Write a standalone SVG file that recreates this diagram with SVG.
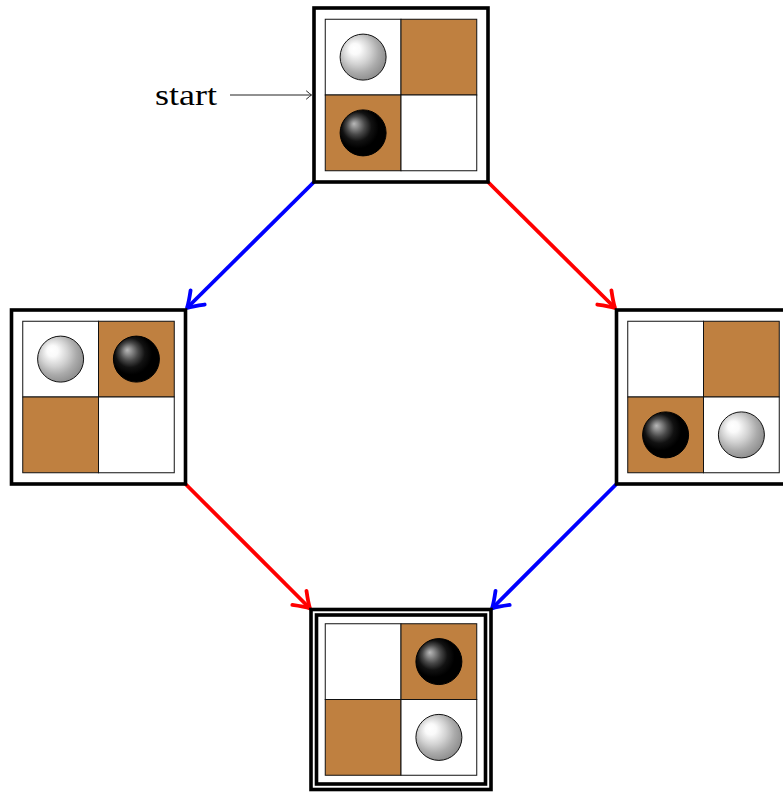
<svg xmlns="http://www.w3.org/2000/svg" xmlns:xlink="http://www.w3.org/1999/xlink" width="783" height="792" viewBox="0 0 783 792">
<style>
.frame{fill:#fff;stroke:#000;stroke-width:3.6}
.cellw{fill:#fff;stroke:#111;stroke-width:1}
.cellb{fill:#BF8040;stroke:#111;stroke-width:1}
.wball{fill:url(#gw);stroke:#111;stroke-width:1}
.bball{fill:url(#gb);stroke:#000;stroke-width:1}
.blue{stroke:#0000FF;stroke-width:3.8;fill:none}
.red{stroke:#FF0000;stroke-width:3.8;fill:none}
.lbl{font-family:"Liberation Serif","DejaVu Serif",serif;font-size:29px;fill:#000}
</style>
<defs>
<radialGradient id="gw" cx="0.5" cy="0.5" r="1" fx="0.3" fy="0.3">
<stop offset="0" stop-color="#fff"/>
<stop offset="0.12" stop-color="#fafafa"/>
<stop offset="0.3" stop-color="#d2d2d2"/>
<stop offset="0.45" stop-color="#ababab"/>
<stop offset="0.62" stop-color="#8a8a8a"/>
<stop offset="1" stop-color="#555"/>
</radialGradient>
<radialGradient id="gb" cx="0.5" cy="0.5" r="1" fx="0.3" fy="0.3">
<stop offset="0" stop-color="#b8b8b8"/>
<stop offset="0.08" stop-color="#8e8e8e"/>
<stop offset="0.2" stop-color="#484848"/>
<stop offset="0.32" stop-color="#121212"/>
<stop offset="0.45" stop-color="#000"/>
<stop offset="1" stop-color="#000"/>
</radialGradient>
<marker id="ab" markerUnits="userSpaceOnUse" markerWidth="30" markerHeight="30" refX="0" refY="0" viewBox="-20 -15 30 30" orient="auto" overflow="visible">
<path d="M-15,-10 Q-5,-2.5 0,0 Q-5,2.5 -15,10" fill="none" stroke="#0000FF" stroke-width="3.8" stroke-linecap="round" stroke-linejoin="round"/>
</marker>
<marker id="ar" markerUnits="userSpaceOnUse" markerWidth="30" markerHeight="30" refX="0" refY="0" viewBox="-20 -15 30 30" orient="auto" overflow="visible">
<path d="M-15,-10 Q-5,-2.5 0,0 Q-5,2.5 -15,10" fill="none" stroke="#FF0000" stroke-width="3.8" stroke-linecap="round" stroke-linejoin="round"/>
</marker>
<marker id="ak" markerUnits="userSpaceOnUse" markerWidth="16" markerHeight="16" refX="0" refY="0" viewBox="-10 -8 16 16" orient="auto" overflow="visible">
<path d="M-5,-4 Q-1.5,-1 0,0 Q-1.5,1 -5,4" fill="none" stroke="#222" stroke-width="1" stroke-linecap="round"/>
</marker>
<g id="board">
<rect class="cellw" x="-75.75" y="-75.75" width="75.75" height="75.75"/>
<rect class="cellb" x="0" y="-75.75" width="75.75" height="75.75"/>
<rect class="cellb" x="-75.75" y="0" width="75.75" height="75.75"/>
<rect class="cellw" x="0" y="0" width="75.75" height="75.75"/>
</g>
</defs>

<g id="connectors">
<path class="blue" d="M314,182 L187,308" marker-end="url(#ab)"/>
<path class="red" d="M488,182 L615,308" marker-end="url(#ar)"/>
<path class="red" d="M185.5,484 L310,608.5" marker-end="url(#ar)"/>
<path class="blue" d="M616.5,484 L492,608.5" marker-end="url(#ab)"/>
<path d="M230,95 L311.5,95" stroke="#222" stroke-width="1" fill="none" marker-end="url(#ak)"/>
</g>

<g id="start-label">
<text class="lbl" x="155" y="105" textLength="62" lengthAdjust="spacingAndGlyphs">start</text>
</g>

<g id="node-top" transform="translate(401,95)">
<rect class="frame" x="-87" y="-87" width="174" height="174"/>
<use xlink:href="#board"/>
<circle class="wball" cx="-37.9" cy="-37.9" r="23"/>
<circle class="bball" cx="-37.9" cy="37.9" r="23"/>
</g>

<g id="node-left" transform="translate(98.5,397)">
<rect class="frame" x="-87" y="-87" width="174" height="174"/>
<use xlink:href="#board"/>
<circle class="wball" cx="-37.9" cy="-37.9" r="23"/>
<circle class="bball" cx="37.9" cy="-37.9" r="23"/>
</g>

<g id="node-right" transform="translate(703.5,397)">
<rect class="frame" x="-87" y="-87" width="174" height="174"/>
<use xlink:href="#board"/>
<circle class="bball" cx="-37.9" cy="37.9" r="23"/>
<circle class="wball" cx="37.9" cy="37.9" r="23"/>
</g>

<g id="node-bottom" transform="translate(401,699.5)">
<rect class="frame" x="-90" y="-90" width="180" height="180"/>
<rect class="frame" x="-84.5" y="-84.5" width="169" height="169"/>
<use xlink:href="#board"/>
<circle class="bball" cx="37.9" cy="-37.9" r="23"/>
<circle class="wball" cx="37.9" cy="37.9" r="23"/>
</g>
</svg>
